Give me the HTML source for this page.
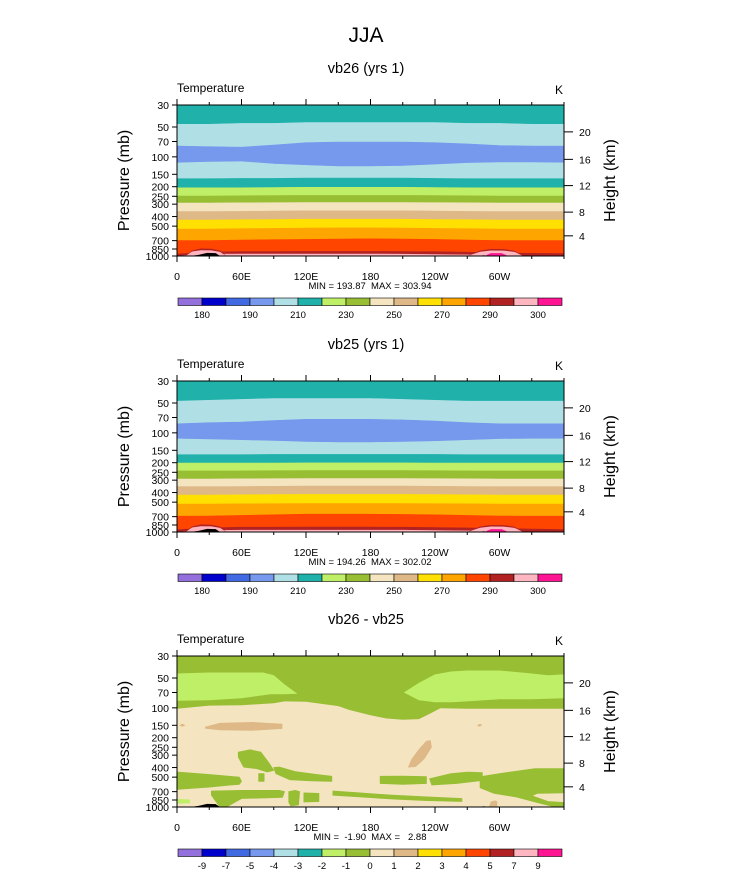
<!DOCTYPE html>
<html><head><meta charset="utf-8">
<style>
html,body{margin:0;padding:0;background:#fff;}
svg{display:block;font-family:"Liberation Sans",sans-serif;}
</style></head>
<body>
<svg id="fig" width="733" height="872" viewBox="0 0 733 872" xmlns="http://www.w3.org/2000/svg">
<text x="366" y="42" text-anchor="middle" font-size="21">JJA</text>
</svg>
<script>
// ---------- data ----------
const lonsCoarse = [0,30,60,90,120,150,180,210,240,270,300,330,360];
const tempColors = ["#9370DB","#0000CD","#4169E1","#7799ED","#B0E0E6","#20B2AA","#BFEF66","#98BE34","#F4E5C0","#DEB887","#FFE000","#FFA500","#FF4500","#B22222","#FFB6C1","#FF1493"];
const tempLabels = ["180","","190","","210","","230","","250","","270","","290","","300"];
const diffLabels = ["-9","-7","-5","-4","-3","-2","-1","0","1","2","3","4","5","7","9"];
const pTicks = [30,50,70,100,150,200,250,300,400,500,700,850,1000];
const hTickKm = [20,16,12,8,4];
const hTickP = [56,106,195,361,626];
const xMajor = [0,60,120,180,240,300];
const xMajorLabels = ["0","60E","120E","180","120W","60W"];
const xMinor = [30,90,150,210,270,330,360];

const bandColorIdx = [5,4,3,4,5,6,7,8,9,10,11,12,13,14];
const p1B = [
 [47,47,46,46,45,45,45,45,45,46,46,47,47],
 [78,79,80,76,72,71,71,71,72,74,77,78,78],
 [115,113,112,118,122,125,125,124,120,116,114,114,115],
 [166,166,165,165,164,164,164,164,165,166,166,166,166],
 [205,205,205,204,203,203,203,203,204,205,205,205,205],
 [248,248,247,246,245,245,245,245,246,247,248,248,248],
 [292,292,291,290,289,289,289,289,290,291,292,292,292],
 [357,357,355,352,350,350,350,350,352,355,357,357,357],
 [433,433,430,428,425,425,425,425,428,430,433,433,433],
 [534,534,530,527,523,521,521,523,527,530,534,534,534],
 [700,700,690,685,680,675,670,675,680,690,700,700,700],
 [955,915,900,900,898,898,898,900,905,915,930,940,945],
 [1000,960,955,955,955,955,955,958,965,975,990,1000,1000]
];
const p2B = [
 [48,47,46,45,45,45,45,46,47,48,48,48,48],
 [81,79,78,75,73,73,73,74,76,79,81,81,81],
 [115,117,119,121,124,125,125,124,122,119,116,115,115],
 [166,166,166,165,165,165,165,165,165,166,166,166,166],
 [202,202,202,202,201,201,201,201,202,202,202,202,202],
 [242,242,242,241,240,240,240,240,241,242,242,242,242],
 [292,292,291,290,289,289,289,289,290,291,292,292,292],
 [349,349,348,346,344,344,344,344,346,348,349,349,349],
 [424,424,422,420,418,418,418,418,420,422,424,424,424],
 [523,523,520,518,516,516,516,516,518,520,523,523,523],
 [693,690,680,670,661,661,661,665,670,680,690,693,693],
 [950,910,895,895,893,893,893,895,900,910,925,935,945],
 [1000,965,958,958,958,958,958,960,965,975,990,1000,1000]
];
const humpLonL = [8,14,22,32,40,46];
const humpFbL = [1000,880,840,845,880,1000];
const humpPkL = [1000,900,875,878,910,1000];
const humpLonR = [270,282,292,304,314,322];
const humpFbR = [1000,880,850,852,885,1000];
const humpPkR = [1000,905,880,882,910,1000];
const magLon = [286,292,302,308];
const magP = [1000,935,935,1000];
const groundLon = [12,20,28,36,40];
const groundP = [1000,975,930,935,1000];
const groundLonR = [282,285,290];
const groundP_R = [1000,985,1000];

const dOliveTopLon = [0,30,60,90,100,120,150,160,180,195,210,225,235,245,270,300,330,360];
const dOliveTopP  = [102,95,94,90,86,87,96,105,119,128,132,130,115,101,102,102,102,102];
const dG1Lon = [0,30,60,80,90,100,112,100,87,60,30,0];
const dG1P  = [45,44,44,44,47,58,72,73,73,80,84,85];
const dG2Lon = [211,225,240,255,270,300,330,345,360,360,330,300,270,255,240,225];
const dG2P  = [70,56,46,43,42,42,45,47,46,80,82,82,86,88,88,84];
const dTan1Lon = [26,40,70,98,98,70,40,26];
const dTan1P  = [155,142,139,145,163,170,168,162];
const dTan2Lon = [215,218,225,232,236,237,230,222,215];
const dTan2P  = [395,330,260,215,212,250,330,395,400];
const dTan3Lon = [2,5,8,5];
const dTan3P  = [150,145,150,155];
const dTan4Lon = [290,292,296,298,298,290];
const dTan4P  = [1000,880,860,880,1000,1000];
const dTan5Lon = [279,282,284,281];
const dTan5P  = [150,145,150,155];
const blobs = [
 {lon:[57,68,78,85,90,84,74,62,57], p:[280,265,280,353,427,444,410,396,313]},
 {lon:[0,30,58,60,58,50,30,0], p:[444,470,500,550,590,600,630,665]},
 {lon:[90,95,110,130,144,144,125,105,92], p:[400,395,440,470,490,550,545,530,460]},
 {lon:[76,81,81,76], p:[460,460,550,550]},
 {lon:[189,210,232,232,210,189], p:[490,488,495,580,590,580]},
 {lon:[235,255,270,284,284,260,237], p:[520,460,445,450,540,580,600]},
 {lon:[282,300,333,360,360,335,330,345,360,360,352,335,315,295,282], p:[496,460,410,410,720,730,770,880,900,1000,1000,900,790,730,640]},
 {lon:[32,60,95,100,98,60,46,40,32], p:[690,680,680,700,800,820,1000,1000,760]},
 {lon:[104,110,114,113,106,104], p:[700,680,700,950,975,900]},
 {lon:[118,132,132,118], p:[720,730,880,890]},
 {lon:[145,170,200,230,265,265,230,200,170,145], p:[690,720,760,790,820,880,860,830,790,760]}
];
const dLG3Lon = [0,12,12,0];
const dLG3P = [830,840,915,925];

// ---------- helpers ----------
const svg = document.getElementById('fig');
const NS = "http://www.w3.org/2000/svg";
const X0 = 177, XW = 387, PH = 151;
function xs(lon){ return X0 + lon/360*XW; }
function ys(p, top){ return top + Math.log10(p/30)/Math.log10(1000/30)*PH; }
function mk(tag, attrs, parent){
  const e = document.createElementNS(NS, tag);
  for (const k in attrs) e.setAttribute(k, attrs[k]);
  (parent||svg).appendChild(e);
  return e;
}
function polyPts(lons, ps, top){
  return lons.map((l,i)=>xs(l).toFixed(1)+","+ys(ps[i],top).toFixed(1)).join(" ");
}

function drawPanel(top, title, kind, minmax, B){
  const g = mk('g', {});
  
  
  const t = mk('text', {x:366, y:top-32, 'text-anchor':'middle', 'font-size':14.5}, g);
  t.textContent = title;
  
  
  const tt = mk('text', {x:177, y:top-13, 'font-size':12}, g);
  tt.textContent = 'Temperature';
  
  
  const tk = mk('text', {x:563, y:top-11, 'text-anchor':'end', 'font-size':12}, g);
  tk.textContent = 'K';
  
  

  const clipId = 'clip'+top;
  const cp = mk('clipPath', {id:clipId}, g);
  mk('rect', {x:X0, y:top, width:XW, height:PH}, cp);
  const plot = mk('g', {'clip-path':'url(#'+clipId+')'}, g);
  
  

  if (kind === 'temp'){
    const bounds = [lonsCoarse.map(()=>30)].concat(B).concat([lonsCoarse.map(()=>1000)]);
    for (let i=0;i<bounds.length-1;i++){
      const upper = bounds[i], lower = bounds[i+1];
      const lons = lonsCoarse.concat(lonsCoarse.slice().reverse());
      const ps = upper.concat(lower.slice().reverse());
      const band = mk('polygon', {points:polyPts(lons, ps, top), fill:tempColors[bandColorIdx[i]], stroke:tempColors[bandColorIdx[i]], 'stroke-width':0.6}, plot);
      
      
    }
    const feats = [[humpLonL,humpFbL,13],[humpLonL,humpPkL,14],[humpLonR,humpFbR,13],[humpLonR,humpPkR,14],[magLon,magP,15]];
    feats.forEach(f=>{
      const h = mk('polygon', {points:polyPts(f[0], f[1], top), fill:tempColors[f[2]]}, plot);
      
      
    });
  } else {
    const bg = mk('rect', {x:X0, y:top, width:XW, height:PH, fill:tempColors[8]}, plot);
    
    
    const oLons = dOliveTopLon.concat([360,0]);
    const oPs = dOliveTopP.concat([30,30]);
    const ot = mk('polygon', {points:polyPts(oLons, oPs, top), fill:tempColors[7]}, plot);
    
    
    [[dG1Lon,dG1P],[dG2Lon,dG2P]].forEach(r=>{
      const e = mk('polygon', {points:polyPts(r[0], r[1], top), fill:tempColors[6]}, plot);
      
      
    });
    blobs.forEach(b=>{
      const e = mk('polygon', {points:polyPts(b.lon, b.p, top), fill:tempColors[7], stroke:tempColors[7], 'stroke-width':0.8, 'stroke-linejoin':'round'}, plot);
      
      
    });
    const lg = mk('polygon', {points:polyPts(dLG3Lon, dLG3P, top), fill:tempColors[6]}, plot);
    
    
    [[dTan1Lon,dTan1P],[dTan2Lon,dTan2P],[dTan3Lon,dTan3P],[dTan4Lon,dTan4P],[dTan5Lon,dTan5P]].forEach(r=>{
      const e = mk('polygon', {points:polyPts(r[0], r[1], top), fill:tempColors[9]}, plot);
      
      
    });
  }
  [[groundLon,groundP],[groundLonR,groundP_R]].forEach(r=>{
    const e = mk('polygon', {points:polyPts(r[0], r[1], top), fill:'#000'}, plot);
    
    
  });

  const frame = mk('rect', {x:X0, y:top, width:XW, height:PH, fill:'none', stroke:'#000', 'stroke-width':1}, g);
  
  

  pTicks.forEach(p=>{
    const y = ys(p, top);
    mk('line', {x1:X0-5, x2:X0, y1:y, y2:y, stroke:'#000', 'stroke-width':1}, g);
    const l = mk('text', {x:X0-8, y:y+4, 'text-anchor':'end', 'font-size':10.5}, g);
    l.textContent = p;
    
    
  });
  const yt = mk('text', {x:0, y:0, 'text-anchor':'middle', 'font-size':16, transform:'translate(129,'+(top+PH/2)+') rotate(-90)'}, g);
  yt.textContent = 'Pressure (mb)';
  
  
  hTickP.forEach((p,i)=>{
    const y = ys(p, top);
    mk('line', {x1:X0+XW, x2:X0+XW+9, y1:y, y2:y, stroke:'#000', 'stroke-width':1}, g);
    const l = mk('text', {x:579, y:y+4, 'font-size':10.5}, g);
    l.textContent = hTickKm[i];
    
    
  });
  const ht = mk('text', {x:0, y:0, 'text-anchor':'middle', 'font-size':16, transform:'translate(615,'+(top+PH/2)+') rotate(-90)'}, g);
  ht.textContent = 'Height (km)';
  
  
  xMajor.forEach((lon,i)=>{
    const x = xs(lon);
    mk('line', {x1:x, x2:x, y1:top-6, y2:top, stroke:'#000'}, g);
    mk('line', {x1:x, x2:x, y1:top+PH, y2:top+PH+6, stroke:'#000'}, g);
    const l = mk('text', {x:x, y:top+PH+24, 'text-anchor':'middle', 'font-size':10.5}, g);
    l.textContent = xMajorLabels[i];
    
    
  });
  xMinor.forEach(lon=>{
    const x = xs(lon);
    mk('line', {x1:x, x2:x, y1:top-3, y2:top, stroke:'#000'}, g);
    mk('line', {x1:x, x2:x, y1:top+PH, y2:top+PH+3, stroke:'#000'}, g);
  });
  const mm = mk('text', {x:370, y:top+PH+33, 'text-anchor':'middle', 'font-size':9.5, style:'white-space:pre'}, g);
  mm.textContent = minmax;
  
  
  const cb = mk('g', {}, g);
  
  
  const labs = kind==='temp' ? tempLabels : diffLabels;
  tempColors.forEach((c,i)=>{
    const r = mk('rect', {x:178+i*24, y:top+193, width:24, height:7.5, fill:c, stroke:'#000', 'stroke-width':0.6}, cb);
    
    
  });
  labs.forEach((s,i)=>{
    if (!s) return;
    const l = mk('text', {x:178+(i+1)*24, y:top+213, 'text-anchor':'middle', 'font-size':9.5}, cb);
    l.textContent = s;
    
    
  });
}

drawPanel(105, 'vb26 (yrs 1)', 'temp', 'MIN = 193.87  MAX = 303.94', p1B);
drawPanel(381, 'vb25 (yrs 1)', 'temp', 'MIN = 194.26  MAX = 302.02', p2B);
drawPanel(656, 'vb26 - vb25', 'diff', 'MIN =  -1.90  MAX =   2.88', null);
</script>
</body></html>
